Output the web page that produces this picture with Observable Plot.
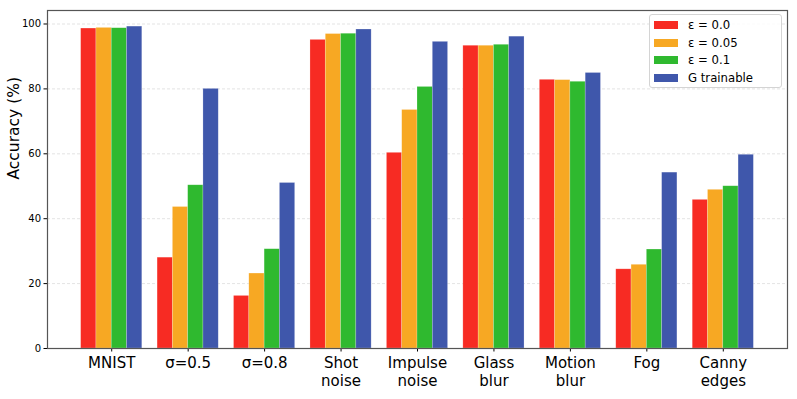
<!DOCTYPE html>
<html>
<head>
<meta charset="utf-8">
<script src="https://cdn.jsdelivr.net/npm/d3@7"></script>
<script src="https://cdn.jsdelivr.net/npm/@observablehq/plot@0.6"></script>
<style>
  body { margin: 0; background: #fff; }
  #chart { position: relative; width: 797px; height: 399px; font-family: "DejaVu Sans", sans-serif; }
  #chart svg { display: block; }
  .legend { position: absolute; left: 649px; top: 14px; width: 133px; height: 74px; box-sizing: border-box;
    border: 1px solid #d4d4d4; border-radius: 3px; background: rgba(255,255,255,0.85); }
  .legend .row { position: absolute; left: 0; height: 14px; display: flex; align-items: center; }
  .legend .sw { position: absolute; left: 4px; width: 24px; height: 8px; }
  .legend .lb { position: absolute; left: 38px; font-size: 11.7px; color: #000; white-space: nowrap; line-height: 14px; }
</style>
</head>
<body>
<div id="chart"></div>
<script>
const categories = ["MNIST", "σ=0.5", "σ=0.8", "Shot\nnoise", "Impulse\nnoise", "Glass\nblur", "Motion\nblur", "Fog", "Canny\nedges"];
const seriesNames = ["ε = 0.0", "ε = 0.05", "ε = 0.1", "G trainable"];
const eps00  = [98.6, 28.0, 16.2, 95.1, 60.3, 93.3, 82.8, 24.4, 45.8];
const eps005 = [98.8, 43.6, 23.1, 96.9, 73.5, 93.3, 82.7, 25.8, 48.9];
const eps01  = [98.7, 50.3, 30.6, 97.0, 80.6, 93.6, 82.2, 30.5, 50.0];
const gTrain = [99.2, 80.0, 51.0, 98.3, 94.5, 96.1, 84.9, 54.2, 59.7];
const colors = ["#f72b23", "#f7a823", "#2fb92f", "#3f57ab"];
const yTicks = [0, 20, 40, 60, 80, 100];
const yLabel = "Accuracy (%)";

const seriesValues = [eps00, eps005, eps01, gTrain];
const rows = [];
seriesValues.forEach((vals, si) => vals.forEach((v, ci) => rows.push({ci, si, series: seriesNames[si], value: v})));

const barW = 0.2;
const plot = Plot.plot({
  width: 797,
  height: 399,
  marginLeft: 47,
  marginRight: 10,
  marginTop: 10,
  marginBottom: 51,
  style: { fontFamily: "DejaVu Sans, sans-serif", background: "white", color: "#000" },
  x: { type: "linear", domain: [-0.84, 8.84], axis: null },
  y: { domain: [0, 104.16], axis: null },
  color: { domain: seriesNames, range: colors },
  marks: [
    Plot.ruleY(yTicks.filter(d => d > 0), { stroke: "#dcdcdc", strokeWidth: 0.8, strokeDasharray: "3,2" }),
    Plot.rectY(rows, {
      x1: d => d.ci + (d.si - 2) * barW,
      x2: d => d.ci + (d.si - 1) * barW,
      y: "value",
      fill: "series",
      stroke: "white",
      strokeOpacity: 0.35,
      strokeWidth: 0.6
    }),
    Plot.axisY({ ticks: yTicks, tickSize: 3.5, tickPadding: 3, fontSize: 10, label: null, tickFormat: d => String(d) }),
    Plot.axisX({ ticks: d3.range(categories.length), tickFormat: i => categories[i], tickSize: 3.5, tickPadding: 4, fontSize: 15, lineHeight: 1.17, label: null }),
    Plot.text([yLabel], { text: d => d, frameAnchor: "left", rotate: -90, dx: -33, fontSize: 15.5 }),
    Plot.frame({ stroke: "#555", strokeWidth: 1.2 })
  ]
});

const chart = document.getElementById("chart");
chart.appendChild(plot);

const legend = document.createElement("div");
legend.className = "legend";
const rowTops = [3.3, 21, 38.3, 56];
seriesNames.forEach((name, i) => {
  const r = document.createElement("div");
  r.className = "row";
  r.style.top = rowTops[i] + "px";
  r.innerHTML = `<span class="sw" style="background:${colors[i]};top:3px"></span><span class="lb">${name}</span>`;
  legend.appendChild(r);
});
chart.appendChild(legend);
</script>
</body>
</html>
